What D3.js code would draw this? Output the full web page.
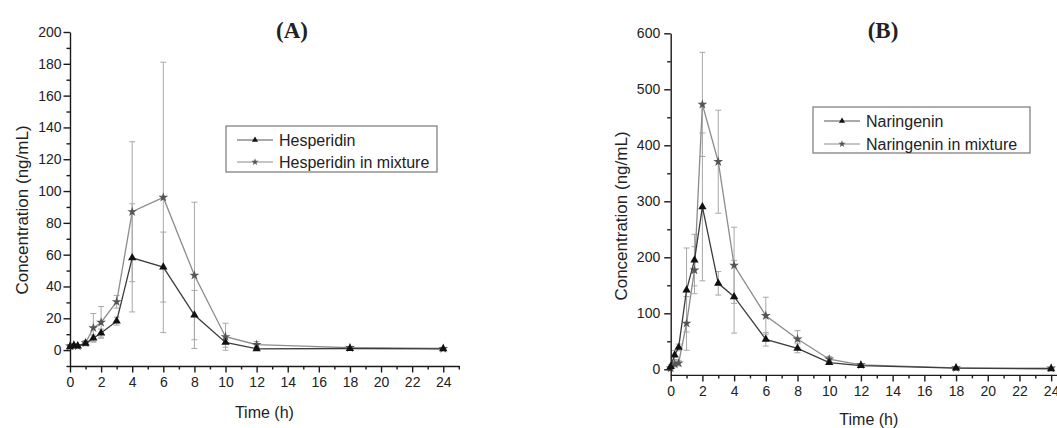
<!DOCTYPE html>
<html>
<head>
<meta charset="utf-8">
<script src="https://cdn.jsdelivr.net/npm/d3@7"></script>
<style>
  body { margin: 0; background: #fff; }
  svg text { font-family: "Liberation Sans", Arial, sans-serif; fill: #222; }
</style>
</head>
<body>
<div id="chart"></div>
<script>
// sampling times (h), same for both studies
const timePoints = [0, 0.25, 0.5, 1, 1.5, 2, 3, 4, 6, 8, 10, 12, 18, 24];

// (A) hesperidin, ng/mL
const hespMean    = [2.0, 2.8, 2.5, 4.2, 7.5, 10.7, 18.2, 58, 52.2, 22, 4.8, 0.8, 1.0, 0.8];
const hespSd      = [0.5, 0.8, 0.7, 1.5, 2, 2.5, 2.5, 34, 22, 15.5, 3, 0.5, 0.4, 0.3];
const hespMixMean = [2.5, 3.2, 2.6, 4.5, 14, 17.4, 30.4, 87, 96, 47, 8.4, 3.4, 1.5, 1.0];
const hespMixSd   = [1, 1, 0.8, 1.5, 9, 10, 4, 44, 85, 46, 8.5, 2, 0.8, 0.5];

// (B) naringenin, ng/mL
const narMean    = [5, 25.5, 39, 141.6, 195, 290, 153.5, 129.6, 53.5, 37.5, 11.8, 6.5, 2, 1];
const narSd      = [3, 8, 6, 75, 46, 132, 21, 65, 12, 8, 3, 2, 1, 0.5];
const narMixMean = [2, 9.5, 11, 82, 177, 473, 370.7, 185.7, 95.7, 54, 18, 8, 2.5, 2];
const narMixSd   = [2, 5, 5, 48, 42, 93, 92, 68, 33, 15, 5, 2, 1, 0.5];

const xTicksMajor = d3.range(0, 25, 2);
const xTicksMinor = d3.range(1, 26, 2);

const width = 1057, height = 428;
const svg = d3.select("#chart").append("svg")
    .attr("width", width)
    .attr("height", height);

const toPoints = (mean, sd) => timePoints.map((t, i) => ({ t, v: mean[i], sd: sd[i] }));

const panels = [
    {
        title: "(A)", titleX: 292,
        xRange: [70, 458.8], yDomain: [-10, 200], yRange: [366, 32],
        yMajor: d3.range(0, 201, 20), yMinor: d3.range(-10, 200, 20), labelPad: 2,
        yLabelX: 28, yLabelY: 210, xLabelY: 418,
        legend: { x: 226, y: 126, w: 211, h: 46, rowGap: 22 },
        series: [
            { name: "Hesperidin", pts: toPoints(hespMean, hespSd), symbol: d3.symbolTriangle, line: "#3c3c3c", mark: "#111" },
            { name: "Hesperidin in mixture", pts: toPoints(hespMixMean, hespMixSd), symbol: d3.symbolStar, line: "#8c8c8c", mark: "#555" }
        ]
    },
    {
        title: "(B)", titleX: 883,
        xRange: [670.7, 1067], yDomain: [-10, 600], yRange: [374.9, 33.3],
        yMajor: d3.range(0, 601, 100), yMinor: d3.range(50, 600, 100), labelPad: 4,
        yLabelX: 627, yLabelY: 216, xLabelY: 425,
        legend: { x: 813, y: 107, w: 217, h: 46, rowGap: 23 },
        series: [
            { name: "Naringenin", pts: toPoints(narMean, narSd), symbol: d3.symbolTriangle, line: "#3c3c3c", mark: "#111" },
            { name: "Naringenin in mixture", pts: toPoints(narMixMean, narMixSd), symbol: d3.symbolStar, line: "#8c8c8c", mark: "#555" }
        ]
    }
];

const drawPanel = (p) => {
    const g = svg.append("g");
    const x = d3.scaleLinear().domain([0, 25]).range(p.xRange);
    const y = d3.scaleLinear().domain(p.yDomain).range(p.yRange);
    const y0 = p.yRange[0];
    const x0 = p.xRange[0];

    // error bars
    p.series.forEach(s => {
        const eb = g.append("g").attr("stroke", "#a8a8a8").attr("stroke-width", 1);
        s.pts.forEach(d => {
            const top = y(d.v + d.sd), bot = y(d.v - d.sd), cx = x(d.t);
            eb.append("line").attr("x1", cx).attr("x2", cx).attr("y1", top).attr("y2", bot);
            eb.append("line").attr("x1", cx - 3).attr("x2", cx + 3).attr("y1", top).attr("y2", top);
            eb.append("line").attr("x1", cx - 3).attr("x2", cx + 3).attr("y1", bot).attr("y2", bot);
        });
    });

    const line = d3.line().x(d => x(d.t)).y(d => y(d.v));
    p.series.slice().reverse().forEach(s => {
        g.append("path")
            .datum(s.pts)
            .attr("fill", "none")
            .attr("stroke", s.line)
            .attr("stroke-width", 1.3)
            .attr("d", line);
        g.selectAll(null)
            .data(s.pts)
            .enter().append("path")
            .attr("transform", d => `translate(${x(d.t)},${y(d.v)})`)
            .attr("d", d3.symbol().type(s.symbol).size(30))
            .attr("fill", s.mark);
    });

    // axes
    const xAxis = g.append("g").attr("transform", `translate(0,${y0})`)
        .call(d3.axisBottom(x).tickValues(xTicksMajor).tickSize(6.5).tickSizeOuter(0).tickPadding(5).tickFormat(d3.format("d")));
    g.append("g").attr("transform", `translate(0,${y0})`)
        .call(d3.axisBottom(x).tickValues(xTicksMinor).tickSize(3.5).tickSizeOuter(0).tickFormat(""))
        .call(a => a.select(".domain").remove());
    const yAxis = g.append("g").attr("transform", `translate(${x0},0)`)
        .call(d3.axisLeft(y).tickValues(p.yMajor).tickSize(6.5).tickSizeOuter(0).tickPadding(p.labelPad).tickFormat(d3.format("d")));
    g.append("g").attr("transform", `translate(${x0},0)`)
        .call(d3.axisLeft(y).tickValues(p.yMinor).tickSize(3.5).tickSizeOuter(0).tickFormat(""))
        .call(a => a.select(".domain").remove());

    g.selectAll(".domain, .tick line").attr("stroke", "#1a1a1a").attr("stroke-width", 1.4);
    xAxis.selectAll("text").style("font-size", "14px").attr("fill", "#222");
    yAxis.selectAll("text").style("font-size", "14px").attr("fill", "#222");

    // axis titles
    g.append("text")
        .attr("x", (p.xRange[0] + p.xRange[1]) / 2)
        .attr("y", p.xLabelY)
        .attr("text-anchor", "middle")
        .style("font-size", "16px")
        .text("Time (h)");
    g.append("text")
        .attr("transform", `translate(${p.yLabelX},${p.yLabelY}) rotate(-90)`)
        .attr("text-anchor", "middle")
        .style("font-size", "17px")
        .text("Concentration (ng/mL)");

    // panel title
    g.append("text")
        .attr("x", p.titleX)
        .attr("y", 38)
        .attr("text-anchor", "middle")
        .style("font-family", "'Liberation Serif', 'Times New Roman', serif")
        .style("font-weight", "bold")
        .style("font-size", "23px")
        .text(p.title);

    // legend
    const L = p.legend;
    const lg = g.append("g").attr("transform", `translate(${L.x},${L.y})`);
    lg.append("rect")
        .attr("width", L.w).attr("height", L.h)
        .attr("fill", "#fff")
        .attr("stroke", "#777")
        .attr("stroke-width", 1.2);
    p.series.forEach((s, i) => {
        const ry = 14 + i * L.rowGap;
        lg.append("line")
            .attr("x1", 11).attr("x2", 47)
            .attr("y1", ry).attr("y2", ry)
            .attr("stroke", s.line === "#3c3c3c" ? "#555" : "#8c8c8c")
            .attr("stroke-width", 1.2);
        lg.append("path")
            .attr("transform", `translate(29,${ry})`)
            .attr("d", d3.symbol().type(s.symbol).size(16))
            .attr("fill", s.mark);
        lg.append("text")
            .attr("x", 53).attr("y", ry)
            .attr("dy", "0.36em")
            .style("font-size", "16px")
            .text(s.name);
    });
};

panels.forEach(drawPanel);
</script>
</body>
</html>
